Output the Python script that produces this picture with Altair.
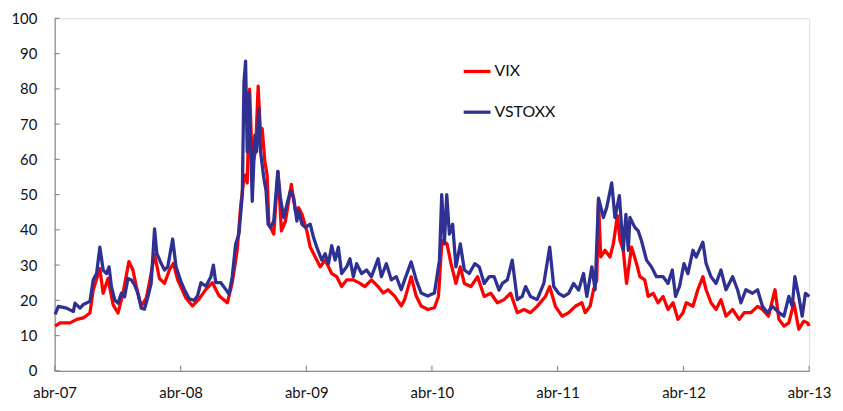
import altair as alt
import pandas as pd

# VIX: decimal year, value
vix_t = [2007.250, 2007.290, 2007.369, 2007.422, 2007.474, 2007.527, 2007.553, 2007.606, 2007.632, 2007.671,
         2007.711, 2007.750, 2007.790, 2007.837, 2007.869, 2007.896, 2007.935, 2007.975, 2008.001, 2008.041,
         2008.080, 2008.120, 2008.159, 2008.191, 2008.225, 2008.291, 2008.343, 2008.396, 2008.449, 2008.501,
         2008.554, 2008.620, 2008.659, 2008.699, 2008.726, 2008.752, 2008.765, 2008.778, 2008.797, 2008.818,
         2008.844, 2008.865, 2008.884, 2008.897, 2008.918, 2008.936, 2008.950, 2008.989, 2009.023, 2009.050,
         2009.082, 2009.129, 2009.161, 2009.187, 2009.213, 2009.252, 2009.279, 2009.319, 2009.358, 2009.398,
         2009.450, 2009.490, 2009.529, 2009.569, 2009.622, 2009.675, 2009.714, 2009.766, 2009.819, 2009.859,
         2009.898, 2009.951, 2010.003, 2010.030, 2010.082, 2010.122, 2010.161, 2010.214, 2010.267, 2010.299,
         2010.327, 2010.367, 2010.399, 2010.438, 2010.473, 2010.505, 2010.557, 2010.610, 2010.663, 2010.715,
         2010.768, 2010.821, 2010.873, 2010.926, 2010.979, 2011.031, 2011.084, 2011.150, 2011.184, 2011.229,
         2011.282, 2011.335, 2011.387, 2011.440, 2011.466, 2011.505, 2011.532, 2011.558, 2011.572, 2011.590,
         2011.624, 2011.663, 2011.690, 2011.722, 2011.743, 2011.769, 2011.795, 2011.835, 2011.875, 2011.901,
         2011.940, 2011.967, 2012.007, 2012.046, 2012.086, 2012.125, 2012.165, 2012.204, 2012.244, 2012.270,
         2012.323, 2012.362, 2012.402, 2012.428, 2012.467, 2012.507, 2012.546, 2012.586, 2012.639, 2012.691,
         2012.731, 2012.784, 2012.837, 2012.876, 2012.924, 2012.976, 2013.007, 2013.047, 2013.086, 2013.126,
         2013.165, 2013.205, 2013.235, 2013.248]
vix = [12.7, 13.6, 13.6, 14.6, 15.0, 16.4, 22.9, 29.0, 22.0, 26.2,
       18.8, 16.4, 22.0, 31.0, 28.6, 23.9, 18.3, 20.6, 25.2, 33.0,
       26.2, 24.8, 28.6, 30.5, 25.8, 20.6, 18.4, 20.4, 23.1, 25.0,
       21.3, 19.3, 25.0, 34.4, 46.8, 54.7, 55.6, 53.3, 79.9, 58.5,
       62.2, 80.8, 66.9, 68.7, 59.4, 55.6, 41.6, 38.8, 56.6, 39.7,
       42.5, 52.9, 45.4, 46.3, 44.4, 39.7, 35.1, 32.3, 29.5, 31.4,
       27.6, 26.7, 23.9, 25.8, 25.8, 24.8, 23.9, 25.8, 23.9, 22.1,
       23.0, 21.2, 18.4, 20.2, 26.7, 21.2, 18.4, 17.4, 17.9, 21.1,
       37.0, 36.0, 30.4, 24.8, 29.5, 24.8, 23.9, 26.7, 21.1, 22.0,
       19.3, 20.2, 22.0, 16.5, 17.4, 16.5, 18.3, 21.1, 23.9, 18.3,
       15.5, 16.5, 18.3, 19.3, 16.5, 18.3, 22.9, 25.8, 48.1, 32.3,
       34.2, 32.3, 36.0, 44.0, 37.0, 34.2, 24.8, 35.1, 30.4, 26.7,
       25.8, 21.1, 22.0, 19.3, 21.1, 17.4, 19.3, 14.6, 16.5, 19.3,
       18.3, 23.0, 26.7, 23.0, 19.3, 17.4, 20.2, 15.5, 17.4, 14.6,
       16.5, 16.5, 18.3, 17.4, 15.5, 23.0, 14.6, 12.7, 13.6, 19.3,
       11.8, 14.1, 13.6, 12.7]

# VSTOXX: decimal year, value
vstoxx_t = [2007.250, 2007.276, 2007.342, 2007.395, 2007.408, 2007.448, 2007.474, 2007.527, 2007.553, 2007.580,
            2007.606, 2007.632, 2007.659, 2007.679, 2007.698, 2007.724, 2007.750, 2007.777, 2007.803, 2007.829,
            2007.856, 2007.882, 2007.908, 2007.935, 2007.961, 2007.988, 2008.014, 2008.041, 2008.059, 2008.093,
            2008.120, 2008.146, 2008.185, 2008.212, 2008.252, 2008.278, 2008.317, 2008.357, 2008.383, 2008.410,
            2008.449, 2008.489, 2008.509, 2008.528, 2008.568, 2008.607, 2008.633, 2008.659, 2008.686, 2008.712,
            2008.739, 2008.752, 2008.765, 2008.778, 2008.792, 2008.805, 2008.818, 2008.839, 2008.852, 2008.871,
            2008.884, 2008.910, 2008.928, 2008.944, 2008.963, 2008.989, 2009.021, 2009.042, 2009.068, 2009.094,
            2009.121, 2009.147, 2009.173, 2009.187, 2009.213, 2009.240, 2009.279, 2009.305, 2009.331, 2009.371,
            2009.398, 2009.424, 2009.450, 2009.477, 2009.503, 2009.529, 2009.569, 2009.595, 2009.622, 2009.648,
            2009.687, 2009.727, 2009.766, 2009.819, 2009.845, 2009.885, 2009.924, 2009.964, 2010.003, 2010.030,
            2010.082, 2010.122, 2010.161, 2010.214, 2010.267, 2010.307, 2010.325, 2010.346, 2010.365, 2010.386,
            2010.412, 2010.438, 2010.473, 2010.505, 2010.544, 2010.588, 2010.623, 2010.663, 2010.702, 2010.742,
            2010.781, 2010.807, 2010.847, 2010.886, 2010.926, 2010.965, 2010.992, 2011.031, 2011.084, 2011.137,
            2011.184, 2011.216, 2011.255, 2011.295, 2011.335, 2011.374, 2011.414, 2011.453, 2011.479, 2011.519,
            2011.545, 2011.572, 2011.611, 2011.637, 2011.677, 2011.703, 2011.738, 2011.769, 2011.790, 2011.809,
            2011.822, 2011.861, 2011.888, 2011.914, 2011.954, 2011.993, 2012.033, 2012.086, 2012.125, 2012.159,
            2012.185, 2012.217, 2012.252, 2012.283, 2012.323, 2012.349, 2012.402, 2012.428, 2012.467, 2012.507,
            2012.546, 2012.586, 2012.639, 2012.678, 2012.705, 2012.744, 2012.797, 2012.837, 2012.876, 2012.916,
            2012.955, 2013.007, 2013.047, 2013.086, 2013.113, 2013.134, 2013.165, 2013.192, 2013.218, 2013.248]
vstoxx = [16.0, 18.3, 17.8, 16.8, 19.2, 17.8, 18.8, 19.7, 25.8, 27.6,
          35.1, 28.6, 27.6, 29.5, 23.9, 20.1, 19.2, 22.0, 21.0, 26.2,
          25.8, 24.4, 22.0, 17.8, 17.5, 21.0, 24.8, 40.3, 33.3, 30.5,
          28.6, 29.5, 37.4, 29.5, 25.2, 23.1, 20.4, 20.0, 21.3, 25.0,
          24.0, 26.7, 30.0, 25.0, 25.0, 23.1, 21.8, 26.7, 36.0, 38.8,
          50.0, 81.8, 87.9, 62.2, 79.0, 64.0, 48.1, 66.9, 62.2, 74.4,
          62.2, 54.7, 51.0, 41.6, 40.7, 42.5, 56.6, 49.1, 43.5, 47.2,
          51.0, 49.1, 42.5, 45.4, 41.6, 40.7, 41.6, 37.9, 35.1, 31.4,
          33.2, 30.4, 35.5, 31.4, 35.1, 27.6, 29.5, 31.8, 26.7, 30.4,
          27.6, 28.6, 26.7, 31.8, 26.7, 30.4, 25.8, 26.7, 23.0, 25.8,
          30.9, 25.8, 22.1, 21.2, 22.1, 31.4, 50.0, 36.0, 50.0, 38.8,
          41.6, 29.5, 36.0, 28.6, 27.6, 30.4, 29.5, 24.8, 26.7, 26.7,
          22.9, 24.8, 25.8, 31.4, 20.2, 21.1, 23.9, 21.1, 20.2, 24.8,
          35.1, 23.9, 22.0, 21.1, 22.0, 24.8, 22.9, 27.6, 21.1, 29.5,
          23.0, 49.0, 43.5, 46.3, 53.3, 43.5, 49.7, 34.2, 44.4, 34.2,
          43.5, 40.7, 39.7, 36.9, 31.4, 29.5, 26.7, 26.7, 24.8, 28.6,
          21.1, 24.0, 30.4, 27.6, 34.2, 32.3, 36.5, 30.4, 26.7, 24.8,
          28.6, 23.0, 26.7, 23.0, 19.3, 23.0, 22.0, 23.0, 18.3, 16.5,
          18.3, 16.5, 15.5, 21.1, 18.3, 26.7, 21.1, 15.5, 22.0, 21.1]

series_names = ["VIX", "VSTOXX"]
series_colors = ["#FF0000", "#2E3192"]
y_ticks = [0, 10, 20, 30, 40, 50, 60, 70, 80, 90, 100]
x_tick_years = [2007, 2008, 2009, 2010, 2011, 2012, 2013]


def to_date(t):
    return pd.Timestamp("2007-01-01") + pd.to_timedelta((t - 2007) * 365.25, unit="D")


rows = []
for t, v in zip(vix_t, vix):
    rows.append({"date": to_date(t), "value": v, "serie": "VIX", "order": 0})
for t, v in zip(vstoxx_t, vstoxx):
    rows.append({"date": to_date(t), "value": v, "serie": "VSTOXX", "order": 1})
df = pd.DataFrame(rows)

ticks_x = pd.DataFrame({"date": [pd.Timestamp(f"{y}-04-01") for y in x_tick_years]})
ticks_y = pd.DataFrame({"value": y_ticks})

W, H = 760, 355
FONT = "Lato"

x_scale = alt.Scale(domain=[alt.DateTime(year=2007, month=4, date=1),
                            alt.DateTime(year=2013, month=4, date=1)])
y_scale = alt.Scale(domain=[0, 100], nice=False)

x_axis = alt.Axis(
    values=[alt.DateTime(year=y, month=4, date=1) for y in x_tick_years],
    labelExpr="'abr-' + timeFormat(datum.value, '%y')",
    title=None, grid=False, tickSize=0, labelPadding=15,
    labelFlush=False, labelOverlap=False,
    labelFont=FONT, labelFontSize=15, labelColor="#111111",
    domainColor="#8c8c8c", domainWidth=1.2,
)
y_axis = alt.Axis(
    values=y_ticks, title=None, grid=False, tickSize=0, labelPadding=18,
    labelFlush=False, labelOverlap=False,
    labelFont=FONT, labelFontSize=15, labelColor="#111111",
    domainColor="#8c8c8c", domainWidth=1.2,
)

lines = alt.Chart(df).mark_line(strokeWidth=3.3, strokeJoin="round").encode(
    x=alt.X("date:T", scale=x_scale, axis=x_axis),
    y=alt.Y("value:Q", scale=y_scale, axis=y_axis),
    color=alt.Color(
        "serie:N",
        scale=alt.Scale(domain=series_names, range=series_colors),
        legend=alt.Legend(
            title=None, orient="none", legendX=410, legendY=38,
            symbolType="stroke", symbolSize=729, symbolStrokeWidth=3.3,
            rowPadding=17, labelOffset=2, labelFont=FONT, labelFontSize=16,
            labelColor="#111111",
        ),
    ),
    order=alt.Order("order:Q"),
    detail="serie:N",
)

xt = alt.Chart(ticks_x).mark_rule(color="#8c8c8c", strokeWidth=1.2).encode(
    x=alt.X("date:T", scale=x_scale, axis=x_axis),
    y=alt.value(H - 5), y2=alt.value(H),
)
yt = alt.Chart(ticks_y).mark_rule(color="#8c8c8c", strokeWidth=1.2).encode(
    y=alt.Y("value:Q", scale=y_scale, axis=y_axis),
    x=alt.value(0), x2=alt.value(5),
)

chart = alt.layer(lines, xt, yt).properties(
    width=W, height=H,
    autosize=alt.AutoSizeParams(type="none"),
    padding={"left": 47, "top": 9, "right": 26, "bottom": 36},
).configure_view(stroke=None).configure(background="white")

chart.save("out.html", embed_options={"renderer": "svg", "actions": False})
